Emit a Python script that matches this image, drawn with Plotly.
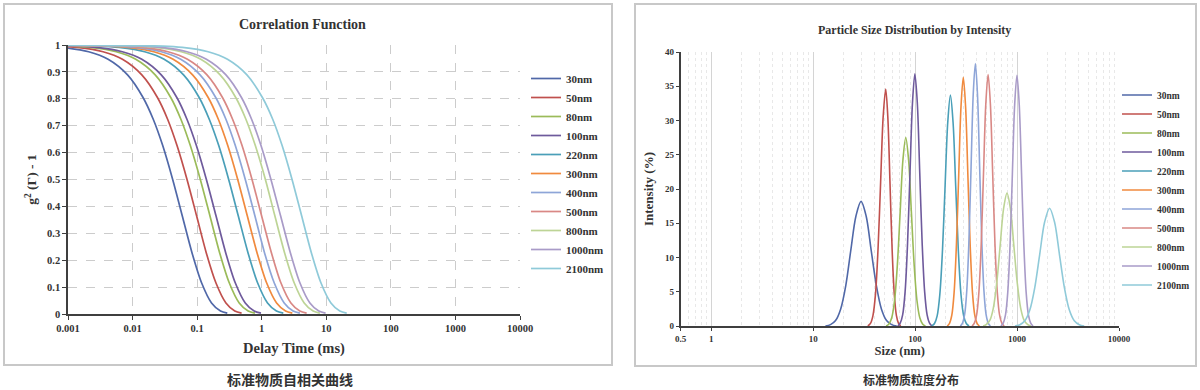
import plotly.graph_objects as go

# ---------------- data ----------------
SIZES = ['30nm', '50nm', '80nm', '100nm', '220nm', '300nm', '400nm', '500nm', '800nm', '1000nm', '2100nm']
COLORS = ['#5068A8', '#C0504D', '#9BBB59', '#6E5A9C', '#4A9FB8', '#F08A3E',
          '#8EA5D8', '#D98885', '#BDD496', '#A99BC8', '#8FCAD9']

# Correlation function: g2-1 levels (shared) and the delay time (ms) at which each curve reaches them
G_LEVELS = [1.0, 0.996, 0.991, 0.975, 0.947, 0.889, 0.804, 0.724, 0.626, 0.5, 0.367, 0.226, 0.116, 0.041, 0.011, 0.003]
TAU_30 = [0.0002, 0.000418, 0.000836, 0.00209, 0.00418, 0.00836, 0.0146, 0.0209, 0.0293, 0.0418, 0.0585, 0.0836, 0.117, 0.167, 0.230, 0.293]
TAU_50 = [0.0002, 0.000697, 0.00139, 0.00349, 0.00697, 0.0139, 0.0244, 0.0349, 0.0488, 0.0697, 0.0976, 0.139, 0.195, 0.279, 0.383, 0.488]
TAU_80 = [0.0002, 0.00112, 0.00224, 0.0056, 0.0112, 0.0224, 0.0392, 0.056, 0.0784, 0.112, 0.157, 0.224, 0.314, 0.448, 0.616, 0.784]
TAU_100 = [0.0002, 0.00139, 0.00278, 0.00695, 0.0139, 0.0278, 0.0487, 0.0695, 0.0973, 0.139, 0.195, 0.278, 0.389, 0.556, 0.765, 0.973]
TAU_220 = [0.0002, 0.00308, 0.00616, 0.0154, 0.0308, 0.0616, 0.108, 0.154, 0.216, 0.308, 0.431, 0.616, 0.862, 1.23, 1.69, 2.16]
TAU_300 = [0.0002, 0.00425, 0.0085, 0.0213, 0.0425, 0.085, 0.149, 0.213, 0.298, 0.425, 0.595, 0.85, 1.19, 1.70, 2.34, 2.98]
TAU_400 = [0.0002, 0.00557, 0.0111, 0.0279, 0.0557, 0.111, 0.195, 0.279, 0.390, 0.557, 0.780, 1.11, 1.56, 2.23, 3.06, 3.90]
TAU_500 = [0.0002, 0.00708, 0.0142, 0.0354, 0.0708, 0.142, 0.248, 0.354, 0.496, 0.708, 0.991, 1.42, 1.98, 2.83, 3.89, 4.96]
TAU_800 = [0.0002, 0.0114, 0.0227, 0.0569, 0.114, 0.227, 0.398, 0.569, 0.796, 1.14, 1.59, 2.27, 3.18, 4.55, 6.25, 7.96]
TAU_1000 = [0.0002, 0.0139, 0.0279, 0.0697, 0.139, 0.279, 0.488, 0.697, 0.975, 1.39, 1.95, 2.79, 3.90, 5.57, 7.66, 9.75]
TAU_2100 = [0.0002, 0.0295, 0.059, 0.148, 0.295, 0.59, 1.03, 1.48, 2.07, 2.95, 4.13, 5.9, 8.26, 11.8, 16.2, 20.7]
CORR_TAUS = [TAU_30, TAU_50, TAU_80, TAU_100, TAU_220, TAU_300, TAU_400, TAU_500, TAU_800, TAU_1000, TAU_2100]

# Particle size distribution by intensity: size (nm) and intensity (%)
PSD_X_30 = [13.2, 14.8, 16.6, 18.6, 20.9, 23.4, 26.3, 29.5, 33.1, 37.1, 41.7, 46.8, 52.5, 58.9, 66.1]
PSD_Y_30 = [0, 0.20, 0.80, 2.46, 5.91, 11.04, 16.06, 18.2, 16.06, 11.04, 5.91, 2.46, 0.80, 0.20, 0]
PSD_X_50 = [34.4, 36.5, 38.6, 40.9, 43.3, 45.9, 48.6, 51.5, 54.0, 56.7, 59.5, 62.5, 65.6, 68.8, 72.2]
PSD_Y_50 = [0, 0.38, 1.52, 4.68, 11.23, 20.98, 30.53, 34.6, 30.53, 20.98, 11.23, 4.68, 1.52, 0.38, 0]
PSD_X_80 = [52.0, 55.4, 59.0, 62.9, 67.0, 71.4, 76.0, 81.0, 86.3, 91.9, 97.9, 104.3, 111.2, 118.4, 126.2]
PSD_Y_80 = [0, 0.31, 1.21, 3.72, 8.93, 16.68, 24.27, 27.5, 24.27, 16.68, 8.93, 3.72, 1.21, 0.31, 0]
PSD_X_100 = [67.6, 71.4, 75.5, 79.8, 84.3, 89.1, 94.2, 99.5, 105.2, 111.1, 117.4, 124.1, 131.2, 138.6, 146.5]
PSD_Y_100 = [0, 0.41, 1.62, 4.98, 11.95, 22.32, 32.48, 36.8, 32.48, 22.32, 11.95, 4.98, 1.62, 0.41, 0]
PSD_X_220 = [146.0, 155.0, 164.6, 174.7, 185.5, 196.9, 209.1, 222.0, 235.7, 250.2, 265.7, 282.1, 299.5, 317.9, 337.6]
PSD_Y_220 = [0, 0.37, 1.48, 4.56, 10.94, 20.44, 29.74, 33.7, 29.74, 20.44, 10.94, 4.56, 1.48, 0.37, 0]
PSD_X_300 = [206.7, 217.6, 229.2, 241.4, 254.2, 267.8, 282.0, 297.0, 312.8, 329.4, 347.0, 365.4, 384.8, 405.3, 426.8]
PSD_Y_300 = [0, 0.40, 1.59, 4.91, 11.79, 22.02, 32.03, 36.3, 32.03, 22.02, 11.79, 4.91, 1.59, 0.40, 0]
PSD_X_400 = [278.0, 291.8, 306.2, 321.4, 337.3, 354.1, 371.6, 390.0, 409.3, 429.6, 450.9, 473.2, 496.7, 521.3, 547.1]
PSD_Y_400 = [0, 0.43, 1.68, 5.18, 12.44, 23.23, 33.80, 38.3, 33.80, 23.23, 12.44, 5.18, 1.68, 0.43, 0]
PSD_X_500 = [361.8, 381.1, 401.3, 422.7, 445.1, 468.8, 493.7, 520.0, 547.7, 576.8, 607.5, 639.8, 673.8, 709.6, 747.3]
PSD_Y_500 = [0, 0.41, 1.61, 4.97, 11.92, 22.26, 32.39, 36.7, 32.39, 22.26, 11.92, 4.97, 1.61, 0.41, 0]
PSD_X_800 = [464.5, 501.7, 542.0, 585.4, 632.3, 683.1, 737.8, 797.0, 860.9, 929.9, 1004.5, 1085.0, 1172.1, 1266.0, 1367.6]
PSD_Y_800 = [0, 0.22, 0.85, 2.62, 6.30, 11.77, 17.12, 19.4, 17.12, 11.77, 6.30, 2.62, 0.85, 0.22, 0]
PSD_X_1000 = [694.5, 731.4, 770.2, 811.2, 854.3, 899.7, 947.6, 998.0, 1051.1, 1107.0, 1165.9, 1227.8, 1293.1, 1361.9, 1434.2]
PSD_Y_1000 = [0, 0.41, 1.61, 4.95, 11.88, 22.20, 32.30, 36.6, 32.30, 22.20, 11.88, 4.95, 1.61, 0.41, 0]
PSD_X_2100 = [954.2, 1066.9, 1192.9, 1333.9, 1491.0, 1667.6, 1864.3, 2085.0, 2331.9, 2606.9, 2915.7, 3259.1, 3644.2, 4074.7, 4556.1]
PSD_Y_2100 = [0, 0.19, 0.76, 2.33, 5.58, 10.43, 15.18, 17.2, 15.18, 10.43, 5.58, 2.33, 0.76, 0.19, 0]
PSD_XS = [PSD_X_30, PSD_X_50, PSD_X_80, PSD_X_100, PSD_X_220, PSD_X_300, PSD_X_400, PSD_X_500, PSD_X_800, PSD_X_1000, PSD_X_2100]
PSD_YS = [PSD_Y_30, PSD_Y_50, PSD_Y_80, PSD_Y_100, PSD_Y_220, PSD_Y_300, PSD_Y_400, PSD_Y_500, PSD_Y_800, PSD_Y_1000, PSD_Y_2100]

# ticks
DELAY_TICKS = [0.001, 0.01, 0.1, 1, 10, 100, 1000, 10000]
DELAY_TICK_LABELS = ['0.001', '0.01', '0.1', '1', '10', '100', '1000', '10000']
G_TICKS = [0, 0.1, 0.2, 0.3, 0.4, 0.5, 0.6, 0.7, 0.8, 0.9, 1]
G_TICK_LABELS = ['0', '0.1', '0.2', '0.3', '0.4', '0.5', '0.6', '0.7', '0.8', '0.9', '1']
SIZE_TICKS = [0.5, 1, 10, 100, 1000, 10000]
SIZE_TICK_LABELS = ['0.5', '1', '10', '100', '1000', '10000']
INT_TICKS = [0, 5, 10, 15, 20, 25, 30, 35, 40]
INT_TICK_LABELS = ['0', '5', '10', '15', '20', '25', '30', '35', '40']

# ---------------- figure ----------------
W, H = 1200, 390
SERIF = 'Liberation Serif'
CJK = 'Noto Sans CJK SC'
AX = '#3f3f3f'
TXT = '#333333'


def px_x(p):
    return p / W


def px_y(p):
    return 1 - p / H


fig = go.Figure()
for name, color, taus in zip(SIZES, COLORS, CORR_TAUS):
    fig.add_trace(go.Scatter(
        x=taus, y=G_LEVELS, mode='lines', name=name,
        line=dict(color=color, width=1.7, shape='spline', smoothing=0.8),
        xaxis='x', yaxis='y', legend='legend', hoverinfo='skip'))
for name, color, xs, ys in zip(SIZES, COLORS, PSD_XS, PSD_YS):
    fig.add_trace(go.Scatter(
        x=xs, y=ys, mode='lines', name=name,
        line=dict(color=color, width=1.6, shape='spline', smoothing=0.9),
        xaxis='x2', yaxis='y2', legend='legend2', hoverinfo='skip'))

tick_font_l = dict(family=SERIF, size=10.5, color=TXT, weight='bold')
tick_font_r = dict(family=SERIF, size=9, color=TXT, weight='bold')

fig.update_layout(
    width=W, height=H, autosize=False,
    margin=dict(l=0, r=0, t=0, b=0, autoexpand=False),
    paper_bgcolor='white', plot_bgcolor='white',
    showlegend=True,
    xaxis=dict(
        type='log', range=[-3, 4], domain=[px_x(68), px_x(520)], anchor='y', automargin=False,
        tickmode='array', tickvals=DELAY_TICKS, ticktext=DELAY_TICK_LABELS,
        showgrid=True, gridcolor='#cccccc', griddash='dash', gridwidth=1,
        showline=True, linecolor=AX, linewidth=1.5, zeroline=False,
        ticks='outside', ticklen=4, tickcolor=AX, tickfont=tick_font_l,
        title=dict(text='Delay Time (ms)', font=dict(family=SERIF, size=14.5, color=TXT, weight='bold'), standoff=10),
    ),
    yaxis=dict(
        range=[0, 1], domain=[px_y(314), px_y(45)], anchor='x', automargin=False,
        tickmode='array', tickvals=G_TICKS, ticktext=G_TICK_LABELS,
        showgrid=True, gridcolor='#cccccc', griddash='dash', gridwidth=1,
        showline=True, linecolor=AX, linewidth=1.5, zeroline=False,
        ticks='outside', ticklen=4, tickcolor=AX, tickfont=tick_font_l,
        title=dict(text='g<sup>2</sup> (Γ) - 1', font=dict(family=SERIF, size=13.5, color=TXT, weight='bold'), standoff=7),
    ),
    xaxis2=dict(
        type='log', range=[-0.30103, 4], domain=[px_x(680.5), px_x(1119)], anchor='y2', automargin=False,
        tickmode='array', tickvals=SIZE_TICKS, ticktext=SIZE_TICK_LABELS,
        showgrid=True, gridcolor='#d4d4d4', gridwidth=1,
        minor=dict(dtick='D1', showgrid=True, gridcolor='#e8e8e8', griddash='dot', ticks=''),
        showline=True, linecolor=AX, linewidth=1.5, zeroline=False,
        ticks='outside', ticklen=3, tickcolor=AX, tickfont=tick_font_r,
        title=dict(text='Size (nm)', font=dict(family=SERIF, size=12.5, color=TXT, weight='bold'), standoff=4),
    ),
    yaxis2=dict(
        range=[0, 40], domain=[px_y(326), px_y(52)], anchor='x2', automargin=False,
        tickmode='array', tickvals=INT_TICKS, ticktext=INT_TICK_LABELS,
        showgrid=False, showline=True, linecolor=AX, linewidth=1.5, zeroline=False,
        ticks='outside', ticklen=3, tickcolor=AX, tickfont=tick_font_r,
        title=dict(text='Intensity (%)', font=dict(family=SERIF, size=13, color=TXT, weight='bold'), standoff=8),
    ),
    legend=dict(
        x=px_x(526), xanchor='left', y=px_y(173.5), yanchor='middle',
        font=dict(family=SERIF, size=11, color=TXT, weight='bold'),
        bgcolor='rgba(0,0,0,0)', itemwidth=30, tracegroupgap=0,
    ),
    legend2=dict(
        x=px_x(1117), xanchor='left', y=px_y(190), yanchor='middle',
        font=dict(family=SERIF, size=9.5, color=TXT, weight='bold'),
        bgcolor='rgba(0,0,0,0)', itemwidth=30, tracegroupgap=0,
    ),
    shapes=[
        dict(type='rect', xref='paper', yref='paper', x0=px_x(4), x1=px_x(612), y0=px_y(365), y1=px_y(4),
             line=dict(color='#c8c8c8', width=2), fillcolor='rgba(0,0,0,0)', layer='below'),
        dict(type='rect', xref='paper', yref='paper', x0=px_x(635), x1=px_x(1196), y0=px_y(366), y1=px_y(4),
             line=dict(color='#c8c8c8', width=2), fillcolor='rgba(0,0,0,0)', layer='below'),
    ],
    annotations=[
        dict(text='Correlation Function', xref='paper', yref='paper', x=px_x(302), y=px_y(24),
             showarrow=False, xanchor='center', yanchor='middle',
             font=dict(family=SERIF, size=14, color=TXT, weight='bold')),
        dict(text='Particle Size Distribution by Intensity', xref='paper', yref='paper', x=px_x(914), y=px_y(30),
             showarrow=False, xanchor='center', yanchor='middle',
             font=dict(family=SERIF, size=12, color=TXT, weight='bold')),
        dict(text='标准物质自相关曲线', xref='paper', yref='paper', x=px_x(290), y=px_y(379),
             showarrow=False, xanchor='center', yanchor='middle',
             font=dict(family=CJK, size=14, color=TXT, weight='bold')),
        dict(text='标准物质粒度分布', xref='paper', yref='paper', x=px_x(911), y=px_y(379),
             showarrow=False, xanchor='center', yanchor='middle',
             font=dict(family=CJK, size=12, color=TXT, weight='bold')),
    ],
)

# the browser's default 8px page margin would shift the whole figure; remove it
fig.write_html('out.html', config={'displayModeBar': False},
               post_script="document.body.style.margin='0px';")
